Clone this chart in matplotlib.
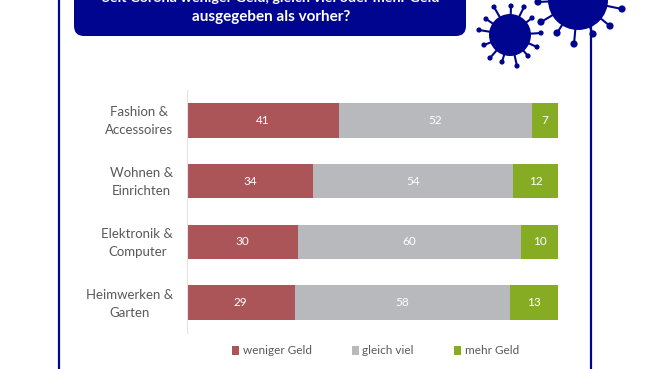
import matplotlib
matplotlib.use('Agg')
import matplotlib.pyplot as plt
from matplotlib.patches import FancyBboxPatch, Circle
from matplotlib.transforms import ScaledTranslation
import numpy as np

categories = ['Fashion &\nAccessoires', 'Wohnen &\nEinrichten', 'Elektronik &\nComputer', 'Heimwerken &\nGarten']
weniger = [41, 34, 30, 29]
gleich = [52, 54, 60, 58]
mehr = [7, 12, 10, 13]
series_names = ['weniger Geld', 'gleich viel', 'mehr Geld']
colors = ['#AB5558', '#B8B9BC', '#86AC24']
navy = '#00058F'

plt.rcParams['font.family'] = ['Lato', 'DejaVu Sans']

W, H = 660, 369
fig = plt.figure(figsize=(W / 100, H / 100), dpi=100)

# overlay in pixel coordinates for frame, title box and viruses
bg = fig.add_axes([0, 0, 1, 1])
bg.set_xlim(0, W)
bg.set_ylim(H, 0)
bg.axis('off')
bg.plot([58.5, 58.5], [0, 369], color=navy, lw=1.6)
bg.plot([590.5, 590.5], [25, 369], color=navy, lw=1.6)
bg.add_patch(FancyBboxPatch((74, -20), 392, 56, boxstyle='round,pad=0,rounding_size=10',
                            fc=navy, ec=navy, lw=0))
bg.text(271, -2, 'Seit Corona weniger Geld, gleich viel oder mehr Geld', color='white',
        fontsize=10.4, fontweight='bold', ha='center', va='center', clip_on=True)
bg.text(271, 17, 'ausgegeben als vorher?', color='white', fontsize=11, fontweight='bold',
        ha='center', va='center')


def virus(cx, cy, r, heads, head_size):
    bg.add_patch(Circle((cx, cy), r, fc=navy, ec=navy, lw=0, zorder=3))
    for x, y in heads:
        bg.plot([cx, x], [cy, y], color=navy, lw=1.5, zorder=2)
        bg.add_patch(Circle((x, y), head_size, fc=navy, ec=navy, lw=0, zorder=3))


small_heads = [(494, 7), (511, 6), (524, 7), (532, 18), (541, 33), (537, 47), (528, 56),
               (517, 66), (502, 62), (490, 58), (484, 45), (479, 30), (486, 19)]
big_heads = [(538, 2), (541, 22), (557, 33), (574, 44), (593, 34), (610, 26), (622, 9)]
virus(510, 35, 21, small_heads, 2.6)
virus(578, 0, 30, big_heads, 3.6)

# chart
ax = fig.add_axes([187 / W, 1 - 333 / H, 371 / W, 243 / H])
y = np.arange(len(categories))
left = np.zeros(len(categories))
for vals, c, name in zip([weniger, gleich, mehr], colors, series_names):
    bars = ax.barh(y, vals, left=left, height=0.57, color=c, label=name)
    ax.bar_label(bars, labels=[str(v) for v in vals], label_type='center', color='white', fontsize=8.5)
    left = left + np.array(vals)
ax.set_xlim(0, 100)
ax.set_ylim(3.5, -0.5)
ax.set_xticks([])
ax.set_yticks(y, categories, fontsize=9.5, color='#595959', linespacing=1.6, ma='center')
ax.tick_params(axis='y', length=0, pad=10)
# labels sit a little higher than the bar centres
up = ScaledTranslation(0, 3 / 100, fig.dpi_scale_trans)
for lab in ax.get_yticklabels():
    lab.set_transform(lab.get_transform() + up)
for s in ['top', 'right', 'bottom']:
    ax.spines[s].set_visible(False)
ax.spines['left'].set_color('#E4E4E4')
ax.spines['left'].set_linewidth(0.8)

fig.legend(*ax.get_legend_handles_labels(), loc='center', bbox_to_anchor=(375.5 / W, 1 - 351 / H),
           ncol=3, frameon=False, fontsize=8.5, labelcolor='#595959', handlelength=0.6,
           handleheight=0.7, handletextpad=0.3, columnspacing=3.4)

fig.savefig('out.png', dpi=100)
